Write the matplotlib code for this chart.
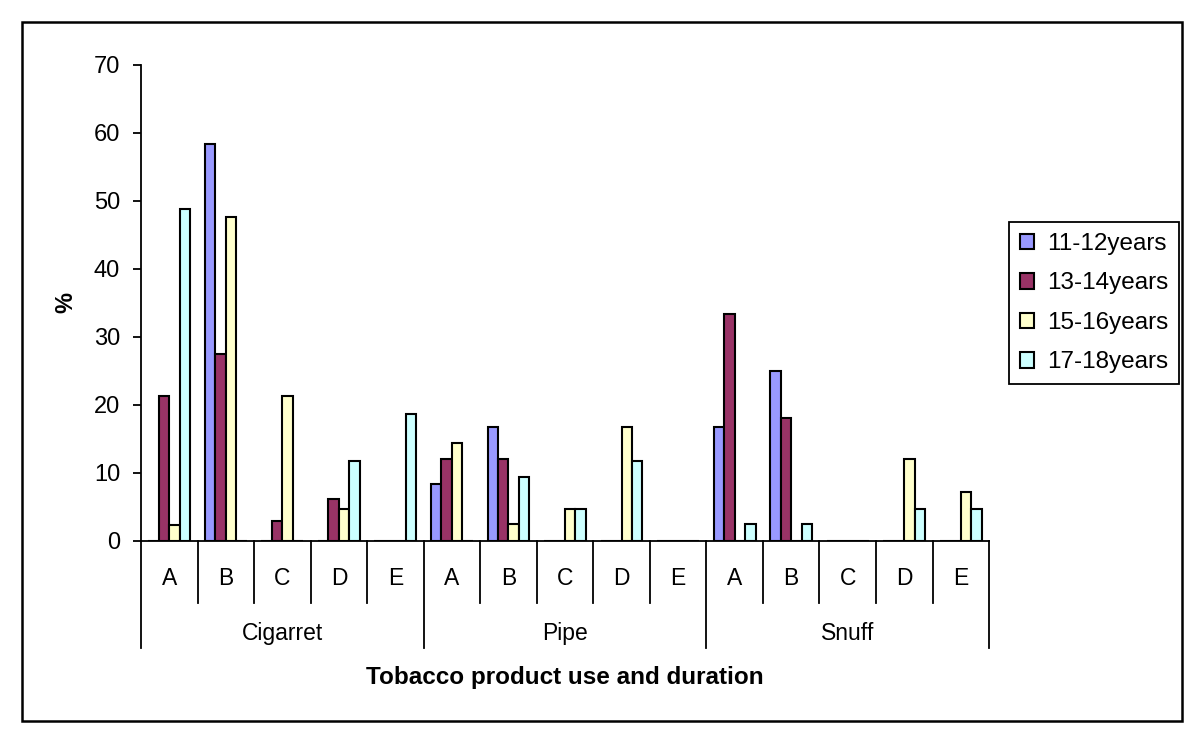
import matplotlib
matplotlib.use("Agg")
import matplotlib.pyplot as plt
from matplotlib.patches import Rectangle
import numpy as np

plt.rcParams['font.family'] = ['Liberation Sans', 'DejaVu Sans']

# data (%)
products = ['Cigarret', 'Pipe', 'Snuff']
durations = ['A', 'B', 'C', 'D', 'E']
series = ['11-12years', '13-14years', '15-16years', '17-18years']
colors = ['#9999FF', '#993366', '#FFFFCC', '#CCFFFF']

# order: Cigarret A-E, Pipe A-E, Snuff A-E
age_11_12 = [0, 58.3, 0, 0, 0,   8.3, 16.7, 0, 0, 0,    16.7, 25.0, 0, 0, 0]
age_13_14 = [21.3, 27.5, 2.9, 6.2, 0,   12.0, 12.0, 0, 0, 0,   33.3, 18.1, 0, 0, 0]
age_15_16 = [2.3, 47.6, 21.3, 4.7, 0,   14.3, 2.4, 4.7, 16.7, 0,   0, 0, 0, 12.0, 7.1]
age_17_18 = [48.8, 0, 0, 11.7, 18.7,   0, 9.4, 4.7, 11.7, 0,   2.4, 2.4, 0, 4.7, 4.7]
values = [age_11_12, age_13_14, age_15_16, age_17_18]

fig = plt.figure(figsize=(12, 7.42), dpi=100)
ax = fig.add_axes([0.1175, 0.2713, 0.7067, 0.6415])

n = len(products) * len(durations)
x = np.arange(n) + 0.5
w = 0.185
for i, (vals, name, c) in enumerate(zip(values, series, colors)):
    ax.bar(x + (i - 1.5) * w, vals, width=w, color=c, edgecolor='black',
           linewidth=1.5, label=name, zorder=3)

ax.set_xlim(0, n)
ax.set_ylim(0, 70)
ax.set_yticks(range(0, 71, 10))
ax.tick_params(axis='y', labelsize=17, length=6, width=1.3, direction='out', pad=9)
ax.set_xticks([])
for s in ['top', 'right']:
    ax.spines[s].set_visible(False)
ax.spines['left'].set_linewidth(1.3)
ax.spines['bottom'].set_linewidth(1.3)
ax.set_ylabel('%', fontsize=17, fontweight='bold', labelpad=12)

# two-level category axis
tr = ax.get_xaxis_transform()
for k in range(n + 1):
    bottom = -0.2256 if k % 5 == 0 else -0.131
    ax.plot([k, k], [0, bottom], color='black', lw=1.3, transform=tr, clip_on=False)
for k in range(n):
    ax.text(k + 0.5, -0.0784, durations[k % 5], transform=tr, ha='center',
            va='center', fontsize=16.5)
for g, name in enumerate(products):
    ax.text(g * 5 + 2.5, -0.194, name, transform=tr, ha='center', va='center',
            fontsize=16.5)
ax.text(0.5, -0.2867, 'Tobacco product use and duration', transform=ax.transAxes,
        ha='center', va='center', fontsize=17.5, fontweight='bold')

leg = ax.legend(loc='upper left', bbox_to_anchor=(0.8408, 0.7008),
                bbox_transform=fig.transFigure, borderaxespad=0, fontsize=17.5,
                handlelength=0.6, handleheight=0.6, handletextpad=0.5,
                labelspacing=0.72, fancybox=False, framealpha=1,
                borderpad=0.45)
leg.get_frame().set_edgecolor('black')
leg.get_frame().set_linewidth(1.3)

# outer chart border
fig.patches.append(Rectangle((0.0183, 0.0283), 0.9667, 0.942, transform=fig.transFigure,
                             fill=False, edgecolor='black', linewidth=1.8))

fig.savefig('out.png', dpi=100)
